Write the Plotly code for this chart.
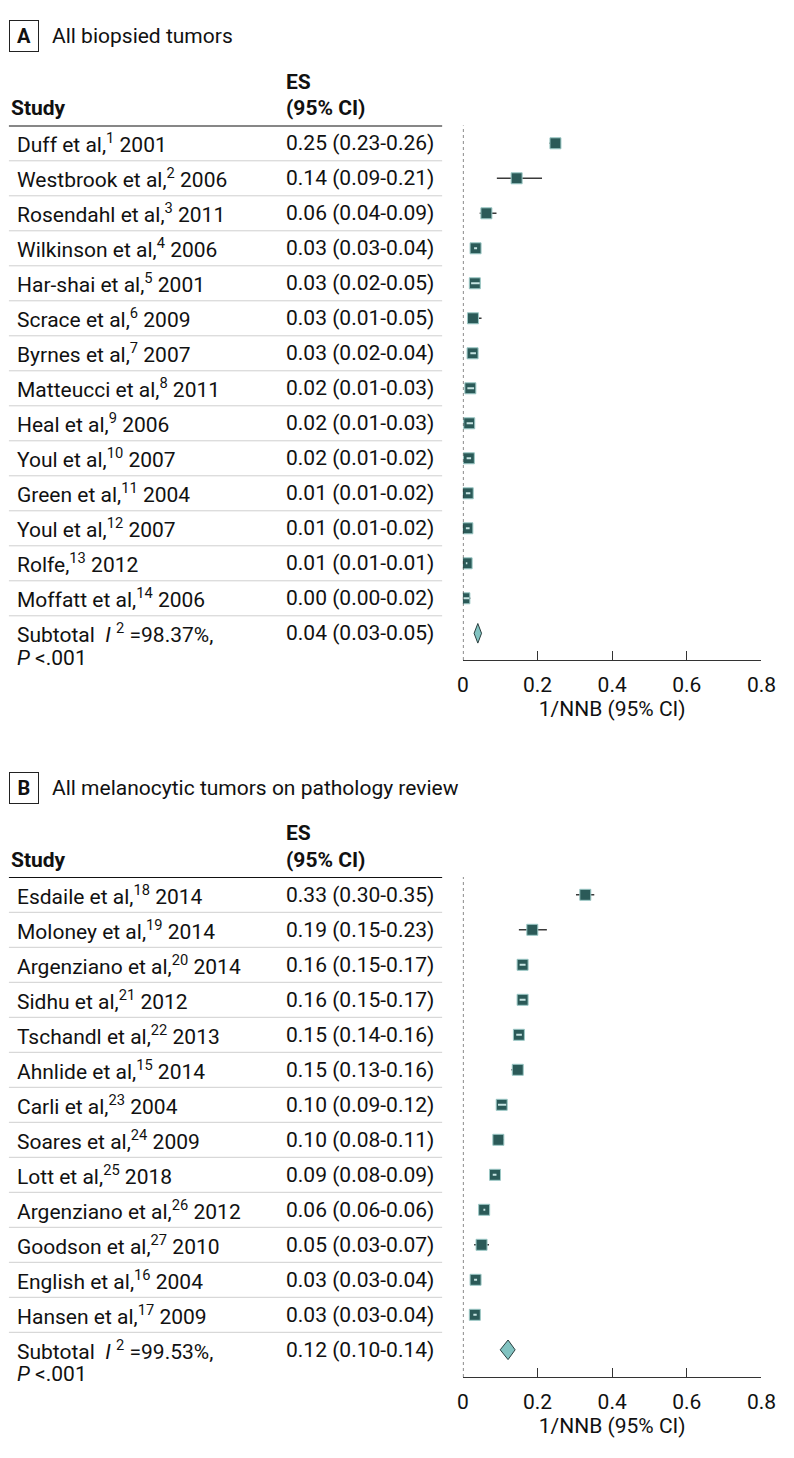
import plotly.graph_objects as go

W, H = 794, 1458
FONT = "Roboto"
FS = 21

# ---------------- Panel A data ----------------
title_a = "All biopsied tumors"
studies_a = [
    "Duff et al,<sup>1</sup> 2001",
    "Westbrook et al,<sup>2</sup> 2006",
    "Rosendahl et al,<sup>3</sup> 2011",
    "Wilkinson et al,<sup>4</sup> 2006",
    "Har-shai et al,<sup>5</sup> 2001",
    "Scrace et al,<sup>6</sup> 2009",
    "Byrnes et al,<sup>7</sup> 2007",
    "Matteucci et al,<sup>8</sup> 2011",
    "Heal et al,<sup>9</sup> 2006",
    "Youl et al,<sup>10</sup> 2007",
    "Green et al,<sup>11</sup> 2004",
    "Youl et al,<sup>12</sup> 2007",
    "Rolfe,<sup>13</sup> 2012",
    "Moffatt et al,<sup>14</sup> 2006",
]
es_text_a = [
    "0.25 (0.23-0.26)", "0.14 (0.09-0.21)", "0.06 (0.04-0.09)", "0.03 (0.03-0.04)",
    "0.03 (0.02-0.05)", "0.03 (0.01-0.05)", "0.03 (0.02-0.04)", "0.02 (0.01-0.03)",
    "0.02 (0.01-0.03)", "0.02 (0.01-0.02)", "0.01 (0.01-0.02)", "0.01 (0.01-0.02)",
    "0.01 (0.01-0.01)", "0.00 (0.00-0.02)",
]
est_a = [0.248, 0.144, 0.063, 0.034, 0.032, 0.027, 0.026, 0.020, 0.017, 0.016, 0.013, 0.012, 0.010, 0.004]
lo_a = [0.232, 0.091, 0.045, 0.030, 0.022, 0.012, 0.020, 0.012, 0.010, 0.010, 0.008, 0.008, 0.008, 0.000]
hi_a = [0.260, 0.212, 0.090, 0.038, 0.046, 0.050, 0.035, 0.030, 0.027, 0.022, 0.020, 0.018, 0.012, 0.020]
sub_est_a, sub_lo_a, sub_hi_a = 0.040, 0.030, 0.050
sub_text_a = "0.04 (0.03-0.05)"
i2_a = "98.37%"

# ---------------- Panel B data ----------------
title_b = "All melanocytic tumors on pathology review"
studies_b = [
    "Esdaile et al,<sup>18</sup> 2014",
    "Moloney et al,<sup>19</sup> 2014",
    "Argenziano et al,<sup>20</sup> 2014",
    "Sidhu et al,<sup>21</sup> 2012",
    "Tschandl et al,<sup>22</sup> 2013",
    "Ahnlide et al,<sup>15</sup> 2014",
    "Carli et al,<sup>23</sup> 2004",
    "Soares et al,<sup>24</sup> 2009",
    "Lott et al,<sup>25</sup> 2018",
    "Argenziano et al,<sup>26</sup> 2012",
    "Goodson et al,<sup>27</sup> 2010",
    "English et al,<sup>16</sup> 2004",
    "Hansen et al,<sup>17</sup> 2009",
]
es_text_b = [
    "0.33 (0.30-0.35)", "0.19 (0.15-0.23)", "0.16 (0.15-0.17)", "0.16 (0.15-0.17)",
    "0.15 (0.14-0.16)", "0.15 (0.13-0.16)", "0.10 (0.09-0.12)", "0.10 (0.08-0.11)",
    "0.09 (0.08-0.09)", "0.06 (0.06-0.06)", "0.05 (0.03-0.07)", "0.03 (0.03-0.04)",
    "0.03 (0.03-0.04)",
]
est_b = [0.328, 0.186, 0.160, 0.160, 0.150, 0.147, 0.104, 0.095, 0.086, 0.057, 0.050, 0.034, 0.032]
lo_b = [0.303, 0.150, 0.152, 0.152, 0.143, 0.130, 0.094, 0.082, 0.080, 0.055, 0.030, 0.030, 0.028]
hi_b = [0.352, 0.225, 0.168, 0.168, 0.158, 0.160, 0.116, 0.110, 0.090, 0.060, 0.070, 0.038, 0.037]
sub_est_b, sub_lo_b, sub_hi_b = 0.121, 0.100, 0.140
sub_text_b = "0.12 (0.10-0.14)"
i2_b = "99.53%"

x_ticks = [0, 0.2, 0.4, 0.6, 0.8]
x_ticktext = ["0", "0.2", "0.4", "0.6", "0.8"]
x_title = "1/NNB (95% CI)"

SQ = "#2b5a58"
SQ_EDGE = "#9cc9c6"
DIA_FILL = "#82c3c1"
DIA_EDGE = "#2a3f3f"
TXT = "#111"

fig = go.Figure()
shapes = []
annotations = []

X0_PX, X1_PX = 469.3, 776.0
PITCH = 35.0


def yp(px):
    return 1 - px / H


def xp(px):
    return px / W


def tfont(size=FS):
    return dict(family=FONT, size=size, color=TXT)


def add_panel(k, letter, title, studies, es_text, est, lo, hi,
              sub_est, sub_lo, sub_hi, sub_text, i2,
              title_y, es_y, ci_y, study_y, line_px, row0_px, axis_px):
    xa = "x" if k == 1 else "x%d" % k
    ya = "y" if k == 1 else "y%d" % k
    n = len(studies)
    top = (line_px - row0_px) / PITCH
    bottom = (axis_px - row0_px) / PITCH
    ys = list(range(n))

    # CI whiskers
    cx, cy = [], []
    for i in ys:
        cx += [lo[i], hi[i], None]
        cy += [i, i, None]
    fig.add_trace(go.Scatter(x=cx, y=cy, mode="lines", xaxis=xa, yaxis=ya,
                             line=dict(color="#3a3a3a", width=1.5), hoverinfo="skip"))
    # squares
    fig.add_trace(go.Scatter(x=est, y=ys, mode="markers", xaxis=xa, yaxis=ya,
                             marker=dict(symbol="square", size=11, color=SQ,
                                         line=dict(color=SQ_EDGE, width=1))))
    # light CI segment visible inside narrow squares
    half = 5.0 / ((X1_PX - X0_PX) / 0.8)
    ix, iy = [], []
    for i in ys:
        if hi[i] - lo[i] <= 0.026:
            a = max(lo[i], est[i] - half)
            b = min(hi[i], est[i] + half)
            if b - a < 0.003:
                a, b = est[i] - 0.0015, est[i] + 0.0015
            ix += [a, b, None]
            iy += [i, i, None]
    fig.add_trace(go.Scatter(x=ix, y=iy, mode="lines", xaxis=xa, yaxis=ya,
                             line=dict(color="#c6e4e2", width=2), hoverinfo="skip"))
    # subtotal diamond
    dh = 0.28
    fig.add_trace(go.Scatter(x=[sub_lo, sub_est, sub_hi, sub_est, sub_lo],
                             y=[n, n - dh, n, n + dh, n], mode="lines", fill="toself",
                             fillcolor=DIA_FILL, line=dict(color=DIA_EDGE, width=1),
                             xaxis=xa, yaxis=ya, hoverinfo="skip"))

    fig.update_layout(**{
        ("xaxis" if k == 1 else "xaxis%d" % k): dict(
            domain=[xp(X0_PX), xp(X1_PX)], range=[0, 0.8], anchor=ya,
            tickvals=x_ticks, ticktext=x_ticktext, ticks="inside", ticklen=9,
            tickcolor="#333", tickwidth=1, showline=True, linecolor="#333", linewidth=1,
            showgrid=False, zeroline=False, ticklabelstandoff=6,
            tickfont=tfont(),
            title=dict(text=x_title, font=tfont(), standoff=4),
        ),
        ("yaxis" if k == 1 else "yaxis%d" % k): dict(
            domain=[yp(axis_px), yp(line_px)], range=[bottom, top], anchor=xa,
            visible=False, showgrid=False, zeroline=False,
        ),
    })

    # dotted line at 0
    shapes.append(dict(type="line", xref=xa, yref=ya + " domain", x0=0, x1=0, y0=0, y1=1,
                       line=dict(color="#333", width=1.2, dash="dot")))
    # header rule
    shapes.append(dict(type="line", xref="paper", yref=ya, x0=xp(3), x1=xp(448),
                       y0=top, y1=top, line=dict(color="#111", width=2)))
    # row separators
    for i in range(n):
        shapes.append(dict(type="line", xref="paper", yref=ya, x0=xp(3), x1=xp(448),
                           y0=i + 0.5, y1=i + 0.5, line=dict(color="#cfcfcf", width=1)))

    # title box and title
    annotations.append(dict(text="<b>%s</b>" % letter, xref="paper", yref="paper",
                            x=xp(18), y=yp(title_y), xanchor="center", yanchor="middle",
                            showarrow=False, width=28, height=30, borderwidth=1,
                            bordercolor="#222", borderpad=0, font=tfont(20)))
    annotations.append(dict(text=title, xref="paper", yref="paper", x=xp(45), y=yp(title_y),
                            xanchor="left", yanchor="middle", showarrow=False, font=tfont()))
    # headers
    annotations.append(dict(text="<b>Study</b>", xref="paper", yref="paper", x=xp(3),
                            y=yp(study_y), xanchor="left", yanchor="middle", showarrow=False,
                            font=tfont()))
    annotations.append(dict(text="<b>ES</b>", xref="paper", yref="paper", x=xp(286),
                            y=yp(es_y), xanchor="left", yanchor="middle", showarrow=False,
                            font=tfont()))
    annotations.append(dict(text="<b>(95% CI)</b>", xref="paper", yref="paper", x=xp(286),
                            y=yp(ci_y), xanchor="left", yanchor="middle", showarrow=False,
                            font=tfont()))
    # rows
    for i in ys:
        annotations.append(dict(text=studies[i], xref="paper", yref=ya, x=xp(9), y=i,
                                xanchor="left", yanchor="middle", showarrow=False,
                                font=tfont()))
        annotations.append(dict(text=es_text[i], xref="paper", yref=ya, x=xp(286), y=i,
                                xanchor="left", yanchor="middle", showarrow=False,
                                font=tfont()))
    annotations.append(dict(text="Subtotal\u00a0\u00a0<i>I</i>\u00a0<sup>2</sup>\u00a0=" + i2 + ",",
                            xref="paper", yref=ya, x=xp(9), y=n, xanchor="left",
                            yanchor="middle", showarrow=False, font=tfont()))
    annotations.append(dict(text="<i>P</i>\u00a0&lt;.001", xref="paper", yref=ya, x=xp(9),
                            y=n + 0.7, xanchor="left", yanchor="middle", showarrow=False,
                            font=tfont()))
    annotations.append(dict(text=sub_text, xref="paper", yref=ya, x=xp(286), y=n,
                            xanchor="left", yanchor="middle", showarrow=False, font=tfont()))


add_panel(1, "A", title_a, studies_a, es_text_a, est_a, lo_a, hi_a,
          sub_est_a, sub_lo_a, sub_hi_a, sub_text_a, i2_a,
          title_y=36, es_y=82, ci_y=108, study_y=108, line_px=125.5, row0_px=143.3, axis_px=660)
add_panel(2, "B", title_b, studies_b, es_text_b, est_b, lo_b, hi_b,
          sub_est_b, sub_lo_b, sub_hi_b, sub_text_b, i2_b,
          title_y=788, es_y=833, ci_y=860, study_y=860, line_px=877, row0_px=894.8, axis_px=1377)

fig.update_layout(width=W, height=H, autosize=False, margin=dict(l=0, r=0, t=0, b=0),
                  paper_bgcolor="white", plot_bgcolor="white", showlegend=False,
                  shapes=shapes, annotations=annotations, font=tfont())

fig.write_html(
    "out.html",
    config={"displayModeBar": False, "responsive": False},
    post_script=(
        "document.documentElement.style.margin='0';"
        "document.body.style.margin='0';document.body.style.padding='0';"
        "document.body.style.overflow='hidden';"
    ),
)
